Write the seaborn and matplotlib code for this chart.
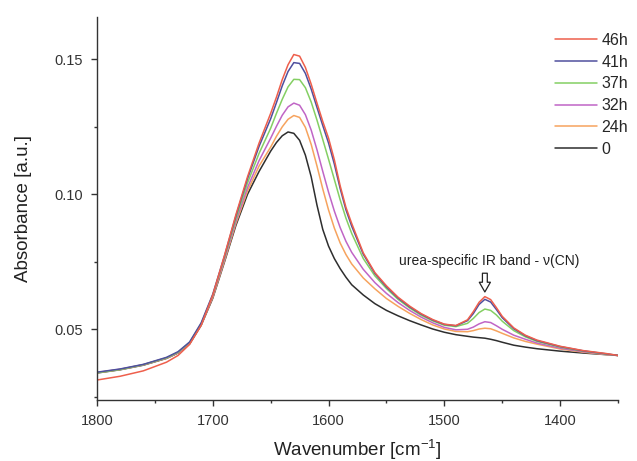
import pandas as pd
import numpy as np
import matplotlib
matplotlib.use("Agg")
import matplotlib.pyplot as plt
from matplotlib.ticker import MultipleLocator, FormatStrFormatter
import seaborn as sns

# wavenumbers [cm-1]
wavenumber = [1800, 1780, 1760, 1740, 1730, 1720, 1710, 1700, 1690, 1680, 1670, 1660, 1650,
              1645, 1640, 1635, 1630, 1625, 1620, 1615, 1610, 1605, 1600, 1595, 1590, 1585, 1580,
              1570, 1560, 1550, 1540, 1530, 1520, 1510, 1500, 1490, 1480,
              1475, 1470, 1465, 1460, 1455, 1450,
              1440, 1430, 1420, 1400, 1380, 1360, 1350]

abs_0h = [0.0338, 0.0350, 0.0367, 0.0392, 0.0412, 0.0446, 0.0515, 0.0615, 0.0748, 0.0885, 0.1000, 0.1085, 0.1160,
          0.1192, 0.1217, 0.1231, 0.1226, 0.1200, 0.1145, 0.1065, 0.0960, 0.0870, 0.0808, 0.0762, 0.0725, 0.0693, 0.0665,
          0.0627, 0.0595, 0.0570, 0.0550, 0.0532, 0.0516, 0.0501, 0.0489, 0.0480, 0.0474,
          0.0471, 0.0469, 0.0467, 0.0463, 0.0458, 0.0452,
          0.0441, 0.0434, 0.0428, 0.0419, 0.0412, 0.0406, 0.0403]
abs_24h = [0.0339, 0.0351, 0.0368, 0.0393, 0.0413, 0.0448, 0.0517, 0.0618, 0.0752, 0.0892, 0.1012, 0.1105, 0.1175,
           0.1215, 0.1250, 0.1278, 0.1292, 0.1285, 0.1248, 0.1185, 0.1105, 0.1020, 0.0942, 0.0875, 0.0820, 0.0777, 0.0742,
           0.0690, 0.0650, 0.0614, 0.0585, 0.0559, 0.0536, 0.0516, 0.0501, 0.0492, 0.0491,
           0.0495, 0.0501, 0.0504, 0.0502, 0.0494, 0.0485,
           0.0468, 0.0455, 0.0445, 0.0427, 0.0415, 0.0406, 0.0403]
abs_32h = [0.0340, 0.0352, 0.0369, 0.0394, 0.0414, 0.0449, 0.0519, 0.0622, 0.0758, 0.0900, 0.1025, 0.1125, 0.1208,
           0.1252, 0.1293, 0.1324, 0.1338, 0.1330, 0.1295, 0.1238, 0.1165, 0.1085, 0.1008, 0.0938, 0.0877, 0.0826, 0.0785,
           0.0722, 0.0673, 0.0633, 0.0599, 0.0570, 0.0545, 0.0524, 0.0507, 0.0498, 0.0500,
           0.0508, 0.0520, 0.0528, 0.0525, 0.0513, 0.0500,
           0.0478, 0.0463, 0.0449, 0.0430, 0.0417, 0.0407, 0.0403]
abs_37h = [0.0339, 0.0351, 0.0369, 0.0394, 0.0415, 0.0451, 0.0521, 0.0626, 0.0764, 0.0910, 0.1042, 0.1152, 0.1245,
           0.1300, 0.1352, 0.1398, 0.1426, 0.1425, 0.1395, 0.1342, 0.1275, 0.1203, 0.1130, 0.1055, 0.0980, 0.0912, 0.0855,
           0.0762, 0.0698, 0.0651, 0.0611, 0.0579, 0.0552, 0.0531, 0.0515, 0.0510, 0.0522,
           0.0540, 0.0562, 0.0575, 0.0570, 0.0553, 0.0530,
           0.0495, 0.0472, 0.0455, 0.0434, 0.0419, 0.0408, 0.0403]
abs_41h = [0.0341, 0.0353, 0.0370, 0.0396, 0.0417, 0.0453, 0.0524, 0.0630, 0.0770, 0.0920, 0.1058, 0.1178, 0.1280,
           0.1340, 0.1402, 0.1455, 0.1488, 0.1485, 0.1448, 0.1390, 0.1322, 0.1255, 0.1190, 0.1112, 0.1022, 0.0943, 0.0882,
           0.0778, 0.0707, 0.0657, 0.0616, 0.0583, 0.0556, 0.0534, 0.0518, 0.0513, 0.0532,
           0.0558, 0.0592, 0.0611, 0.0601, 0.0573, 0.0543,
           0.0502, 0.0476, 0.0458, 0.0436, 0.0420, 0.0409, 0.0403]
abs_46h = [0.0312, 0.0326, 0.0346, 0.0378, 0.0403, 0.0444, 0.0515, 0.0627, 0.0772, 0.0925, 0.1065, 0.1190, 0.1300,
           0.1360, 0.1425, 0.1480, 0.1518, 0.1512, 0.1470, 0.1408, 0.1338, 0.1270, 0.1208, 0.1128, 0.1032, 0.0952, 0.0892,
           0.0783, 0.0710, 0.0661, 0.0619, 0.0586, 0.0558, 0.0536, 0.0519, 0.0514, 0.0535,
           0.0565, 0.0600, 0.0621, 0.0610, 0.0580, 0.0548,
           0.0505, 0.0478, 0.0460, 0.0437, 0.0421, 0.0410, 0.0403]

labels = ["46h", "41h", "37h", "32h", "24h", "0"]
colors = ["#ee5f4c", "#4f4f9e", "#84cf63", "#c065c6", "#f6a35e", "#2e2e2e"]
series = [abs_46h, abs_41h, abs_37h, abs_32h, abs_24h, abs_0h]

sns.set_style("ticks")
plt.rcParams["font.family"] = ["Liberation Sans", "DejaVu Sans"]
plt.rcParams["mathtext.default"] = "regular"

fig = plt.figure(figsize=(6.37, 4.61), dpi=100)
ax = fig.add_axes([97 / 637, 61 / 461, 521 / 637, 383 / 461])

# black first so the later spectra sit on top
for lab, col, vals in reversed(list(zip(labels, colors, series))):
    sns.lineplot(x=wavenumber, y=vals, color=col, linewidth=1.1, label=lab, ax=ax)

ax.set_xlim(1800, 1350)
ax.set_ylim(0.0238, 0.1657)
ax.xaxis.set_major_locator(MultipleLocator(100))
ax.xaxis.set_minor_locator(MultipleLocator(50))
ax.yaxis.set_major_locator(MultipleLocator(0.05))
ax.yaxis.set_minor_locator(MultipleLocator(0.025))
ax.yaxis.set_major_formatter(FormatStrFormatter("%.2f"))
ax.tick_params(which="major", direction="out", length=4, width=1.0, colors="#333333", labelsize=10.5, pad=6)
ax.tick_params(which="minor", direction="out", length=2.5, width=1.0, colors="#333333")
for s in ["left", "bottom"]:
    ax.spines[s].set_linewidth(1.0)
    ax.spines[s].set_color("#333333")
sns.despine(ax=ax)

ax.set_xlabel("Wavenumber [cm$^{-1}$]", fontsize=13.5, color="#222222", labelpad=7)
ax.set_ylabel("Absorbance [a.u.]", fontsize=13.5, color="#222222", labelpad=16)

ax.text(1461, 0.0752, "urea-specific IR band - ν(CN)", ha="center", va="center", fontsize=10, color="#222222")
ax.annotate("", xy=(1465, 0.0628), xytext=(1465, 0.0718),
            arrowprops=dict(arrowstyle="simple,head_width=0.8,head_length=0.7,tail_width=0.35",
                            fc="white", ec="#222222", lw=0.9))

handles, labs = ax.get_legend_handles_labels()
order = [labs.index(l) for l in labels]
ax.legend([handles[i] for i in order], labels, loc="upper left",
          bbox_to_anchor=(555 / 637, 1 - 33 / 461), bbox_transform=fig.transFigure,
          frameon=False, fontsize=11.5, handlelength=2.6, handletextpad=0.3,
          labelspacing=0.42, borderpad=0, borderaxespad=0)

fig.savefig("out.png", dpi=100)
